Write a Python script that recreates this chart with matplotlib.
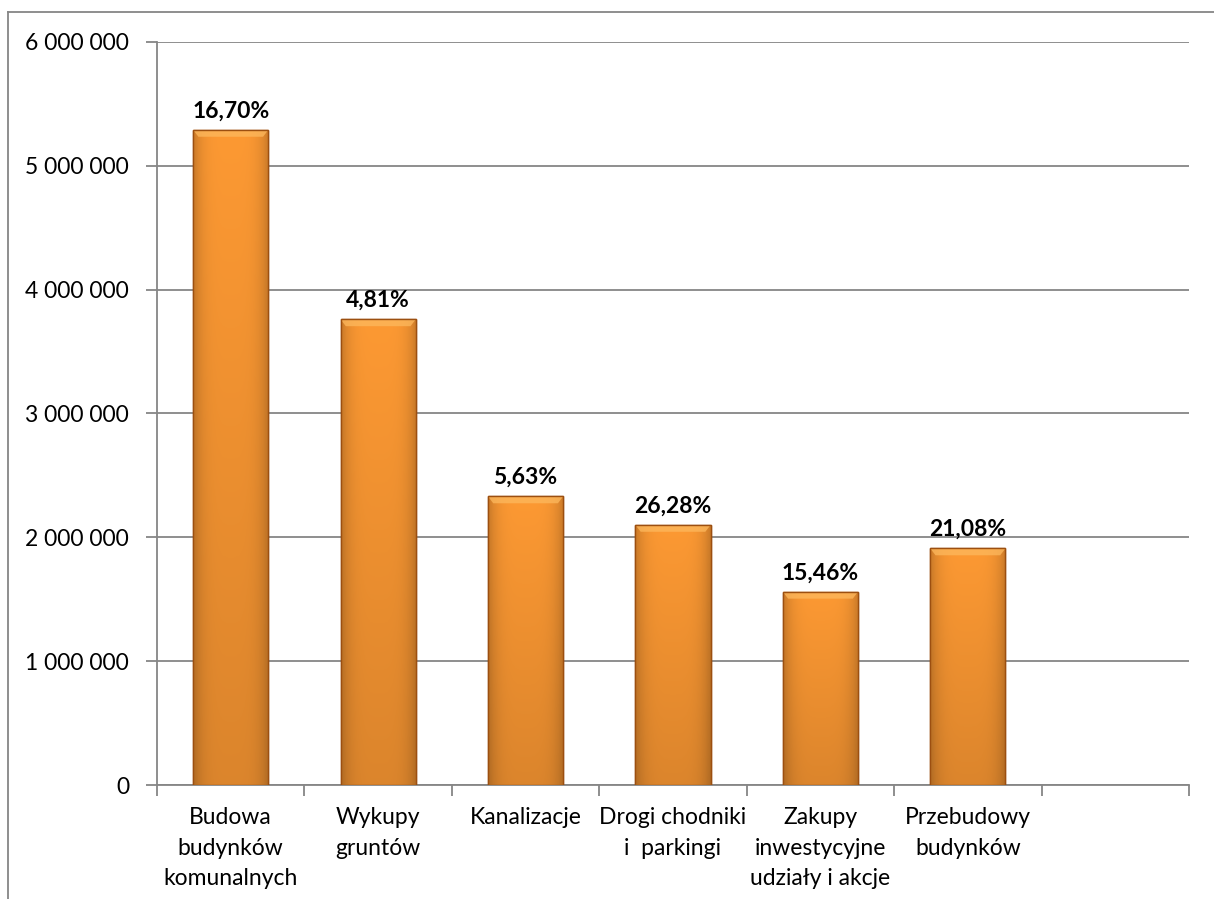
import numpy as np
import matplotlib.pyplot as plt
from matplotlib.lines import Line2D
from matplotlib.ticker import FuncFormatter

# dane
kategorie = ['Budowa\nbudynków\nkomunalnych', 'Wykupy\ngruntów', 'Kanalizacje',
             'Drogi chodniki\ni  parkingi', 'Zakupy\ninwestycyjne\nudziały i akcje',
             'Przebudowy\nbudynków', '']
wartosci = [5290000, 3760000, 2330000, 2100000, 1560000, 1910000]
procenty = ['16,70%', '4,81%', '5,63%', '26,28%', '15,46%', '21,08%']

plt.rcParams['font.family'] = ['Lato', 'DejaVu Sans']

fig = plt.figure(figsize=(12.14, 8.99), dpi=100)
ax = fig.add_axes([157/1214, 1 - 785/899, 1032/1214, 743/899])

szary = '#868686'

x = np.arange(len(wartosci))
bary = ax.bar(x, wartosci, width=0.51, color='#F7922F', edgecolor='#9C4F10',
              linewidth=1.0, zorder=3)

# gradient na slupkach (jasniejszy srodek, ciemniejsze brzegi)
nx, ny = 60, 200
gx = np.linspace(-1, 1, nx)
gy = np.linspace(0, 1, ny)
fx = 1 - 0.2 * np.abs(gx) ** 4
fy = 0.87 + 0.13 * gy
jasnosc = fy[:, None] * fx[None, :]
baza = np.array([0.99, 0.60, 0.20])
img = np.clip(baza[None, None, :] * jasnosc[:, :, None], 0, 1)
for b in bary:
    x0, w, h = b.get_x(), b.get_width(), b.get_height()
    im = ax.imshow(img, extent=[x0, x0 + w, 0, h], origin='lower',
                   aspect='auto', zorder=3.5)
    im.set_clip_path(b)
    # jasna fazka na gorze
    ax.fill([x0, x0 + w, x0 + w * 0.93, x0 + w * 0.07],
            [h, h, h - 55000, h - 55000],
            color='#FDB95E', alpha=0.75, zorder=3.6, linewidth=0)
    ax.bar(b.get_x() + w / 2, h, width=w, fill=False, edgecolor='#9C4F10',
           linewidth=1.0, zorder=3.7)

for i, (v, p) in enumerate(zip(wartosci, procenty)):
    ax.annotate(p, (x[i], v), xytext=(0, 6), textcoords='offset points',
                ha='center', va='bottom', fontsize=16.5, fontweight='bold',
                zorder=5)

ax.set_xlim(-0.5, 6.5)
ax.set_ylim(0, 6000000)
ax.set_yticks(np.arange(0, 6000001, 1000000))
ax.yaxis.set_major_formatter(FuncFormatter(lambda v, pos: f'{int(v):,}'.replace(',', ' ')))
ax.grid(axis='y', color=szary, linewidth=1.3, zorder=0)

ax.set_xticks(np.arange(-0.5, 7, 1))
ax.set_xticklabels([])
ax.set_xticks(x.tolist() + [6], minor=True)
ax.set_xticklabels(kategorie, minor=True, linespacing=1.55)
ax.tick_params(axis='x', which='minor', length=0, pad=16, labelsize=16.5)
ax.tick_params(axis='x', which='major', length=8, width=1.3, color=szary)
ax.tick_params(axis='y', length=8, width=1.3, color=szary, labelsize=16.5, pad=12)

for s in ['top', 'right']:
    ax.spines[s].set_visible(False)
for s in ['left', 'bottom']:
    ax.spines[s].set_color(szary)
    ax.spines[s].set_linewidth(1.3)

# ramka wykresu
fig.add_artist(Line2D([8/1214, 8/1214], [0, 1 - 12/899], color=szary, linewidth=1.3))
fig.add_artist(Line2D([8/1214, 1], [1 - 12/899, 1 - 12/899], color=szary, linewidth=1.3))

fig.savefig('out.png', dpi=100)
